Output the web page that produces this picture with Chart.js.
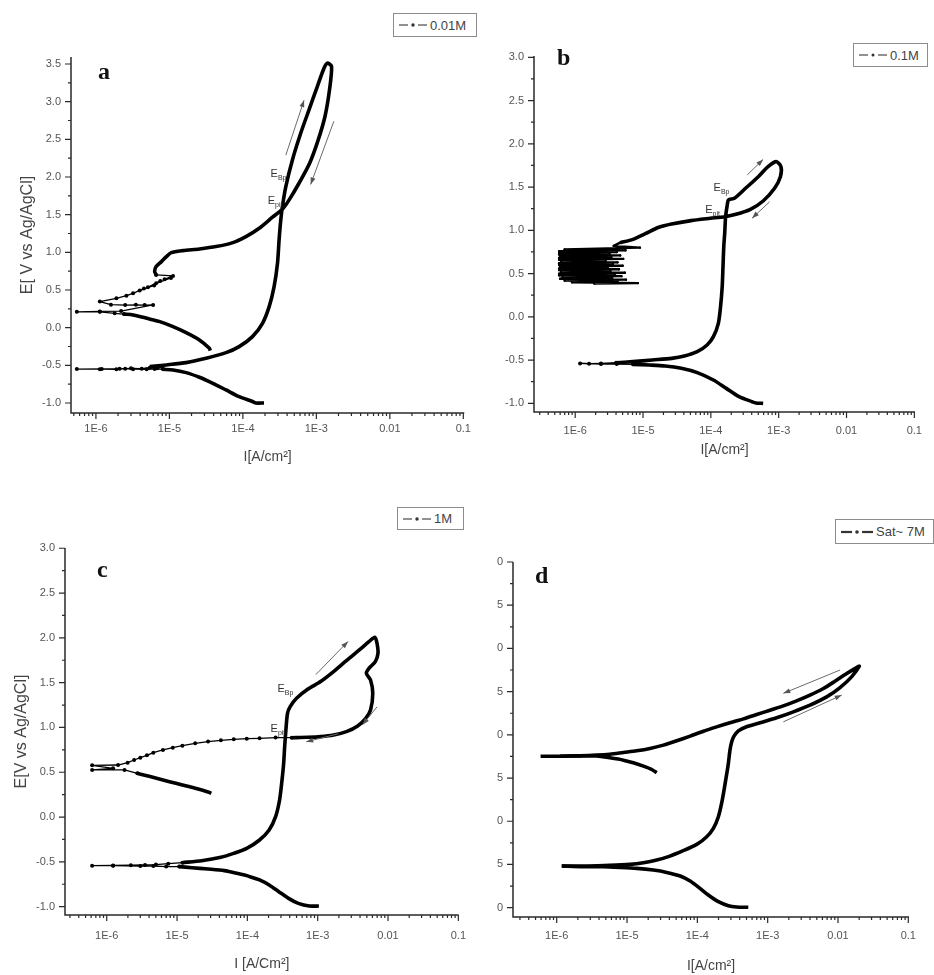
<!DOCTYPE html>
<html>
<head>
<meta charset="utf-8">
<script src="https://cdn.jsdelivr.net/npm/chart.js@4.4.1/dist/chart.umd.min.js"></script>
<style>
  body { margin: 0; background: #fff; width: 934px; height: 975px; position: relative; overflow: hidden; font-family: "Liberation Sans", Arial, sans-serif; }
  canvas { position: absolute; }
  .clip { position: absolute; overflow: hidden; }
  .legend { position: absolute; box-sizing: border-box; border: 1px solid #8c8c8c; background: #fff; display: flex; align-items: center; padding-left: 4px; font-size: 13px; color: #444; white-space: nowrap; }
  .legend svg { margin-right: 2px; }
</style>
</head>
<body>

<canvas id="panelA" width="480" height="475" style="left:0;top:0"></canvas>
<canvas id="panelB" width="454" height="475" style="left:480px;top:0"></canvas>
<canvas id="panelC" width="480" height="495" style="left:0;top:480px"></canvas>
<div class="clip" style="left:497px;top:480px;width:437px;height:495px">
  <canvas id="panelD" width="464" height="495" style="left:-27px;top:0"></canvas>
</div>

<div class="legend" style="left:393px;top:13px;width:84px;height:24px"><svg width="30" height="10"><line x1="1" y1="5" x2="10" y2="5" stroke="#555" stroke-width="1.3"/><circle cx="15" cy="5" r="1.7" fill="#333"/><line x1="20" y1="5" x2="29" y2="5" stroke="#555" stroke-width="1.3"/></svg>0.01M</div>
<div class="legend" style="left:853px;top:43px;width:75px;height:24px"><svg width="30" height="10"><line x1="1" y1="5" x2="10" y2="5" stroke="#555" stroke-width="1.3"/><circle cx="15" cy="5" r="1.5" fill="#333"/><line x1="20" y1="5" x2="29" y2="5" stroke="#555" stroke-width="1.3"/></svg>0.1M</div>
<div class="legend" style="left:397px;top:507px;width:67px;height:23px"><svg width="30" height="10"><line x1="1" y1="5" x2="10" y2="5" stroke="#555" stroke-width="1.3"/><circle cx="15" cy="5" r="1.7" fill="#333"/><line x1="20" y1="5" x2="29" y2="5" stroke="#555" stroke-width="1.3"/></svg>1M</div>
<div class="legend" style="left:835px;top:519px;width:99px;height:25px"><svg width="34" height="10"><line x1="1" y1="5" x2="12" y2="5" stroke="#333" stroke-width="2.2"/><circle cx="17" cy="5" r="1.8" fill="#333"/><line x1="22" y1="5" x2="33" y2="5" stroke="#333" stroke-width="2.2"/></svg>Sat~ 7M</div>

<script>
// axis ticks
const xTickVals = [1e-6, 1e-5, 1e-4, 1e-3, 0.01, 0.1];
const xTickLabels = ['1E-6', '1E-5', '1E-4', '1E-3', '0.01', '0.1'];
const yTicksA = [-1.0, -0.5, 0.0, 0.5, 1.0, 1.5, 2.0, 2.5, 3.0, 3.5];
const yTicks = [-1.0, -0.5, 0.0, 0.5, 1.0, 1.5, 2.0, 2.5, 3.0];

// ---- panel a : 0.01M ----
const aCathI = [1.94e-4, 1.5e-4, 1.35e-4, 8.9e-5, 5.9e-5, 3.9e-5, 2.56e-5, 1.69e-5, 1.12e-5, 8.2e-6];
const aCathE = [-1.00, -1.00, -0.98, -0.916, -0.827, -0.739, -0.659, -0.597, -0.562, -0.553];
const aCorrI = [8.2e-6, 6.3e-6, 4.9e-6, 3.2e-6, 2.5e-6, 1.9e-6, 1.13e-6, 5.5e-7, 1.2e-6, 2.1e-6, 3.0e-6, 4.2e-6, 5.4e-6, 6.8e-6, 8.0e-6];
const aCorrE = [-0.553, -0.548, -0.553, -0.551, -0.545, -0.552, -0.551, -0.550, -0.548, -0.546, -0.540, -0.545, -0.532, -0.538, -0.525];
const aAnodI = [5.4e-6, 9.1e-6, 1.69e-5, 3.16e-5, 5.9e-5, 8.9e-5, 1.35e-4, 1.85e-4, 2.28e-4, 2.66e-4, 2.96e-4, 3.11e-4, 3.28e-4, 3.45e-4, 3.84e-4, 4.72e-4, 6.12e-4, 7.94e-4, 1.03e-3, 1.27e-3, 1.41e-3, 1.61e-3, 1.51e-3, 1.31e-3, 1.06e-3, 8.1e-4, 5.8e-4, 4.26e-4, 3.45e-4, 2.53e-4, 1.67e-4, 1.1e-4, 7.3e-5, 4.3e-5, 2.56e-5, 1.52e-5, 1.06e-5, 9.1e-6, 7.8e-6, 6.6e-6, 6.3e-6, 6.6e-6];
const aAnodE = [-0.517, -0.495, -0.464, -0.407, -0.332, -0.252, -0.119, 0.058, 0.279, 0.545, 0.855, 1.165, 1.430, 1.607, 1.873, 2.227, 2.581, 2.891, 3.201, 3.444, 3.511, 3.467, 3.157, 2.803, 2.493, 2.183, 1.917, 1.696, 1.572, 1.466, 1.320, 1.209, 1.129, 1.076, 1.045, 1.023, 0.996, 0.943, 0.877, 0.811, 0.744, 0.700];
const aNoiseI = [6.6e-6, 1.12e-5, 8.6e-6, 1.05e-5, 6.6e-6, 7.5e-6, 5.1e-6, 6.2e-6, 3.94e-6, 4.5e-6, 3.2e-6, 2.6e-6, 1.9e-6, 1.13e-6, 1.6e-6, 2.5e-6, 3.5e-6, 4.6e-6, 6.0e-6, 2.2e-6, 1.13e-6, 5.5e-7, 1.13e-6, 1.8e-6, 2.4e-6];
const aNoiseE = [0.700, 0.687, 0.642, 0.660, 0.589, 0.620, 0.536, 0.560, 0.492, 0.520, 0.456, 0.425, 0.390, 0.346, 0.305, 0.300, 0.303, 0.300, 0.301, 0.220, 0.215, 0.210, 0.210, 0.190, 0.180];
const aRevI = [2.4e-6, 3.2e-6, 4.9e-6, 7.4e-6, 1.12e-5, 1.69e-5, 2.56e-5, 3.5e-5, 3.6e-5];
const aRevE = [0.180, 0.169, 0.124, 0.080, 0.014, -0.066, -0.163, -0.274, -0.305];
const aArrows = [[3.84e-4, 2.29, 6.8e-4, 3.02], [1.73e-3, 2.74, 8.36e-4, 1.90]];
const aLabels = [['Bp', 3.92e-4, 2.05], ['pit', 3.45e-4, 1.70]];

// ---- panel b : 0.1M ----
const bCathI = [5.9e-4, 4.6e-4, 4.05e-4, 2.61e-4, 1.69e-4, 1.09e-4, 6.3e-5, 3.67e-5, 2.12e-5, 1.23e-5, 7.1e-6];
const bCathE = [-1.00, -0.995, -0.981, -0.923, -0.827, -0.730, -0.645, -0.595, -0.568, -0.557, -0.549];
const bCorrI = [7.1e-6, 4.1e-6, 2.4e-6, 1.18e-6, 1.6e-6, 2.4e-6, 4.0e-6];
const bCorrE = [-0.549, -0.545, -0.545, -0.538, -0.542, -0.538, -0.530];
const bAnodI = [4.0e-6, 7.1e-6, 1.37e-5, 2.64e-5, 4.08e-5, 6.3e-5, 8.8e-5, 1.09e-4, 1.29e-4, 1.39e-4, 1.47e-4, 1.51e-4, 1.55e-4, 1.6e-4, 1.65e-4, 1.73e-4, 1.82e-4, 2.22e-4, 3.25e-4, 5.0e-4, 6.98e-4, 9.2e-4, 1.08e-3, 1.06e-3, 8.7e-4, 5.9e-4, 3.83e-4, 2.34e-4, 1.6e-4, 9.8e-5, 5.1e-5, 2.64e-5, 1.71e-5, 1.1e-5, 7.1e-6, 4.6e-6];
const bAnodE = [-0.530, -0.518, -0.499, -0.480, -0.453, -0.403, -0.326, -0.229, -0.075, 0.118, 0.349, 0.580, 0.811, 0.965, 1.158, 1.274, 1.351, 1.370, 1.486, 1.620, 1.736, 1.794, 1.736, 1.620, 1.486, 1.339, 1.243, 1.185, 1.158, 1.139, 1.112, 1.073, 1.035, 0.965, 0.896, 0.857];
const bNoiseI = [4.6e-6, 3.7e-6, 9.0e-6, 7.0e-7, 5.5e-6, 5.8e-7, 4.1e-6, 5.8e-7, 3.2e-6, 5.8e-7, 4.6e-6, 6.0e-7, 3.4e-6, 5.8e-7, 5.1e-6, 5.8e-7, 2.8e-6, 6.2e-7, 4.2e-6, 5.8e-7, 3.6e-6, 5.8e-7, 5.0e-6, 6.0e-7, 3.0e-6, 5.8e-7, 4.4e-6, 5.8e-7, 3.3e-6, 6.2e-7, 5.4e-6, 5.8e-7, 3.8e-6, 5.8e-7, 4.8e-6, 6.5e-7, 3.5e-6, 6.0e-7, 5.6e-6, 7.0e-7, 4.2e-6, 9.0e-7, 8.4e-6, 1.9e-6];
const bNoiseE = [0.857, 0.820, 0.800, 0.780, 0.770, 0.760, 0.750, 0.740, 0.730, 0.720, 0.710, 0.700, 0.690, 0.680, 0.670, 0.660, 0.650, 0.640, 0.630, 0.620, 0.610, 0.600, 0.590, 0.580, 0.570, 0.560, 0.550, 0.540, 0.530, 0.520, 0.510, 0.500, 0.490, 0.480, 0.470, 0.460, 0.450, 0.440, 0.430, 0.420, 0.410, 0.400, 0.390, 0.385];
const bArrows = [[3.44e-4, 1.64, 5.9e-4, 1.82], [7.36e-4, 1.33, 4.05e-4, 1.14]];
const bLabels = [['Bp', 1.88e-4, 1.50], ['pit', 1.36e-4, 1.25]];

// ---- panel c : 1M ----
const cCathI = [1.04e-3, 7.6e-4, 5.3e-4, 3.85e-4, 2.8e-4, 2.04e-4, 1.49e-4, 1.09e-4, 7.1e-5, 4.7e-5, 2.76e-5, 1.63e-5, 1.07e-5];
const cCathE = [-0.993, -0.993, -0.963, -0.907, -0.833, -0.758, -0.702, -0.665, -0.628, -0.598, -0.580, -0.565, -0.553];
const cCorrI = [1.07e-5, 7.0e-6, 4.6e-6, 3.0e-6, 1.23e-6, 6.2e-7, 1.23e-6, 2.2e-6, 3.5e-6, 5.0e-6, 7.5e-6, 1.19e-5];
const cCorrE = [-0.553, -0.553, -0.546, -0.546, -0.542, -0.542, -0.540, -0.538, -0.534, -0.530, -0.520, -0.509];
const cAnodI = [1.19e-5, 2.24e-5, 4.2e-5, 6.4e-5, 9.8e-5, 1.49e-4, 2.04e-4, 2.52e-4, 2.87e-4, 3.11e-4, 3.28e-4, 3.39e-4, 3.53e-4, 3.72e-4, 4.06e-4, 5.0e-4, 7.2e-4, 1.1e-3, 1.68e-3, 2.56e-3, 3.9e-3, 5.35e-3, 6.5e-3, 6.97e-3, 7.2e-3, 6.6e-3, 5.35e-3, 4.92e-3, 5.64e-3, 6.07e-3, 5.64e-3, 4.82e-3, 3.7e-3, 2.56e-3, 1.68e-3, 1.1e-3, 7.2e-4, 4.27e-4];
const cAnodE = [-0.509, -0.487, -0.449, -0.405, -0.349, -0.256, -0.144, 0.005, 0.191, 0.414, 0.600, 0.786, 0.972, 1.158, 1.233, 1.326, 1.426, 1.512, 1.623, 1.746, 1.865, 1.958, 2.007, 1.940, 1.828, 1.735, 1.660, 1.605, 1.530, 1.381, 1.195, 1.102, 1.017, 0.953, 0.916, 0.898, 0.890, 0.886];
const cDotI = [4.27e-4, 2.52e-4, 1.49e-4, 9.8e-5, 6.4e-5, 4.2e-5, 2.76e-5, 1.81e-5, 1.19e-5, 8.7e-6, 6.3e-6, 4.6e-6, 3.73e-6, 3.0e-6, 2.45e-6, 1.98e-6, 1.45e-6, 6.2e-7, 1.23e-6, 6.2e-7, 1.79e-6, 2.72e-6];
const cDotE = [0.886, 0.887, 0.879, 0.875, 0.868, 0.857, 0.842, 0.823, 0.797, 0.775, 0.749, 0.719, 0.689, 0.663, 0.637, 0.607, 0.581, 0.578, 0.544, 0.526, 0.526, 0.488];
const cRevI = [2.72e-6, 3.36e-6, 5.1e-6, 7.8e-6, 1.19e-5, 1.81e-5, 2.76e-5, 3.07e-5];
const cRevE = [0.488, 0.470, 0.433, 0.395, 0.358, 0.321, 0.280, 0.265];
const cArrows = [[9.4e-4, 1.59, 2.7e-3, 1.96], [6.97e-3, 1.23, 4.34e-3, 1.03], [1.97e-3, 0.93, 6.86e-4, 0.84]];
const cLabels = [['Bp', 4.5e-4, 1.44], ['pit', 3.46e-4, 0.99]];

// ---- panel d : Sat~ 7M ----
const dCathI = [5.3e-4, 3.62e-4, 2.76e-4, 1.99e-4, 1.43e-4, 1.09e-4, 7.9e-5, 5.7e-5, 3.67e-5, 2.36e-5, 1.37e-5, 7.9e-6, 4.6e-6, 2.4e-6, 1.18e-6];
const dCathE = [-0.996, -0.992, -0.977, -0.931, -0.854, -0.777, -0.692, -0.634, -0.592, -0.565, -0.545, -0.534, -0.526, -0.526, -0.518];
const dAnodI = [1.18e-6, 2.67e-6, 5.7e-6, 1.1e-5, 1.71e-5, 2.64e-5, 4.08e-5, 6.3e-5, 9.8e-5, 1.36e-4, 1.69e-4, 1.99e-4, 2.26e-4, 2.53e-4, 2.76e-4, 2.91e-4, 3.08e-4, 3.32e-4, 3.83e-4, 5.0e-4, 7.8e-4, 1.34e-3, 2.32e-3, 4.0e-3, 6.9e-3, 0.0107, 0.0156, 0.0201, 0.0184, 0.0133, 9.06e-3, 6.2e-3, 4.0e-3, 2.58e-3, 1.67e-3, 1.08e-3, 6.98e-4, 4.51e-4, 2.91e-4, 1.88e-4, 1.22e-4, 7.9e-5, 5.1e-5, 3.29e-5, 2.12e-5, 1.37e-5, 8.9e-6, 5.7e-6, 3.7e-6, 2.15e-6, 1.11e-6, 5.9e-7];
const dAnodE = [-0.518, -0.518, -0.511, -0.499, -0.480, -0.449, -0.403, -0.341, -0.268, -0.179, -0.083, 0.052, 0.245, 0.476, 0.669, 0.823, 0.919, 0.985, 1.046, 1.093, 1.139, 1.197, 1.266, 1.343, 1.439, 1.547, 1.671, 1.794, 1.778, 1.709, 1.620, 1.536, 1.459, 1.393, 1.335, 1.285, 1.235, 1.185, 1.139, 1.092, 1.042, 0.985, 0.931, 0.881, 0.842, 0.815, 0.796, 0.776, 0.765, 0.757, 0.753, 0.753];
const dRevI = [1.11e-6, 2.15e-6, 3.7e-6, 5.7e-6, 8.9e-6, 1.23e-5, 1.71e-5, 2.25e-5, 2.64e-5];
const dRevE = [0.753, 0.757, 0.755, 0.734, 0.707, 0.676, 0.638, 0.599, 0.561];
const dArrows = [[0.0107, 1.75, 1.67e-3, 1.48], [1.67e-3, 1.15, 0.0113, 1.46]];

const FONT = '"Liberation Sans", Arial, sans-serif';

// style: 'thick' dense data, 'dots' sparse points, 'noise' jagged block
function curve(I, E, style) {
    const s = style || 'thick';
    return {
        data: I.map((v, i) => ({x: v, y: E[i]})),
        showLine: true,
        borderColor: '#000',
        backgroundColor: '#000',
        borderWidth: s === 'thick' ? 3.6 : (s === 'noise' ? 2.4 : 1.3),
        pointRadius: s === 'thick' ? 0 : (s === 'noise' ? 1.2 : 2),
        pointBorderWidth: 0,
        pointHoverRadius: 0,
        borderJoinStyle: 'round',
        tension: s === 'thick' ? 0.25 : 0
    };
}

// axes, tick marks, arrows, E labels and panel letter
function makeDecor(cfg) {
    return {
        id: 'decor',
        afterDatasetsDraw(chart) {
            const ctx = chart.ctx;
            const ca = chart.chartArea;
            const x = chart.scales.x, y = chart.scales.y;
            ctx.save();
            ctx.strokeStyle = '#2a2a2a';
            ctx.lineWidth = 1.5;
            ctx.beginPath();
            ctx.moveTo(ca.left, ca.top);
            ctx.lineTo(ca.left, ca.bottom);
            ctx.lineTo(ca.right, ca.bottom);
            ctx.stroke();

            ctx.lineWidth = 1.2;
            ctx.beginPath();
            cfg.yTicks.forEach(v => {
                const py = y.getPixelForValue(v);
                ctx.moveTo(ca.left, py); ctx.lineTo(ca.left - 6, py);
                const m = v + 0.25;
                if (m <= y.max) {
                    const pm = y.getPixelForValue(m);
                    ctx.moveTo(ca.left, pm); ctx.lineTo(ca.left - 3, pm);
                }
            });
            xTickVals.forEach(v => {
                const px = x.getPixelForValue(v);
                ctx.moveTo(px, ca.bottom); ctx.lineTo(px, ca.bottom + 6);
            });
            for (let e = -7; e <= -2; e++) {
                for (let k = 2; k <= 9; k++) {
                    const v = k * Math.pow(10, e);
                    if (v <= x.min || v >= x.max) continue;
                    const px = x.getPixelForValue(v);
                    ctx.moveTo(px, ca.bottom); ctx.lineTo(px, ca.bottom + 3);
                }
            }
            ctx.stroke();

            // arrows
            ctx.strokeStyle = '#6a6a6a';
            ctx.fillStyle = '#555';
            ctx.lineWidth = 1;
            (cfg.arrows || []).forEach(a => {
                const x0 = x.getPixelForValue(a[0]), y0 = y.getPixelForValue(a[1]);
                const x1 = x.getPixelForValue(a[2]), y1 = y.getPixelForValue(a[3]);
                const ang = Math.atan2(y1 - y0, x1 - x0);
                ctx.beginPath(); ctx.moveTo(x0, y0); ctx.lineTo(x1, y1); ctx.stroke();
                ctx.beginPath();
                ctx.moveTo(x1, y1);
                ctx.lineTo(x1 - 7 * Math.cos(ang) + 2.5 * Math.sin(ang), y1 - 7 * Math.sin(ang) - 2.5 * Math.cos(ang));
                ctx.lineTo(x1 - 7 * Math.cos(ang) - 2.5 * Math.sin(ang), y1 - 7 * Math.sin(ang) + 2.5 * Math.cos(ang));
                ctx.closePath(); ctx.fill();
            });

            // E_Bp / E_pit
            ctx.fillStyle = '#333';
            ctx.textBaseline = 'alphabetic';
            (cfg.labels || []).forEach(l => {
                const px = x.getPixelForValue(l[1]), py = y.getPixelForValue(l[2]);
                ctx.font = '11px ' + FONT;
                const wE = ctx.measureText('E').width;
                ctx.font = '7px ' + FONT;
                const wS = ctx.measureText(l[0]).width;
                const x0 = px - wE - wS;
                ctx.font = '11px ' + FONT;
                ctx.fillText('E', x0, py + 4);
                ctx.font = '7px ' + FONT;
                ctx.fillText(l[0], x0 + wE, py + 7);
            });

            // panel letter
            ctx.fillStyle = '#111';
            ctx.font = 'bold 24px "Liberation Serif", "Times New Roman", serif';
            ctx.fillText(cfg.letter, ca.left + cfg.letterDx, ca.top + cfg.letterDy);
            ctx.restore();
        }
    };
}

function makeChart(id, cfg) {
    new Chart(document.getElementById(id), {
        type: 'scatter',
        data: {datasets: cfg.sets},
        options: {
            responsive: false,
            animation: false,
            events: [],
            layout: {padding: {top: cfg.padTop, right: cfg.padRight, left: 0, bottom: 0}},
            plugins: {legend: {display: false}, tooltip: {enabled: false}},
            scales: {
                x: {
                    type: 'logarithmic',
                    min: cfg.xMin, max: cfg.xMax,
                    grid: {display: false, drawTicks: false},
                    border: {display: false},
                    afterBuildTicks: s => { s.ticks = xTickVals.map(v => ({value: v})); },
                    afterFit: s => { s.height = cfg.xH; },
                    ticks: {
                        autoSkip: false, maxRotation: 0, padding: cfg.xPad,
                        color: '#555', font: {family: FONT, size: 11},
                        callback: (v, i) => xTickLabels[i]
                    },
                    title: {
                        display: true, text: cfg.xTitle, color: '#444',
                        font: {family: FONT, size: 14},
                        padding: {top: 0, bottom: cfg.xTitlePad}
                    }
                },
                y: {
                    min: cfg.yMin, max: cfg.yMax,
                    grid: {display: false, drawTicks: false},
                    border: {display: false},
                    afterBuildTicks: s => { s.ticks = cfg.yTicks.map(v => ({value: v})); },
                    afterFit: s => { s.width = cfg.yW; },
                    ticks: {
                        padding: 10, color: '#555', font: {family: FONT, size: 11},
                        callback: v => v.toFixed(1)
                    },
                    title: {
                        display: !!cfg.yTitle, text: cfg.yTitle || '', color: '#444',
                        font: {family: FONT, size: 16},
                        padding: {top: cfg.yTitlePad || 0, bottom: 0}
                    }
                }
            }
        },
        plugins: [makeDecor(cfg)]
    });
}

makeChart('panelA', {
    sets: [curve(aCathI, aCathE), curve(aCorrI, aCorrE, 'dots'), curve(aAnodI, aAnodE),
           curve(aNoiseI, aNoiseE, 'dots'), curve(aRevI, aRevE)],
    xMin: 4.58e-7, xMax: 0.103, yMin: -1.133, yMax: 3.593, yTicks: yTicksA,
    padTop: 57, padRight: 14, yW: 71, xH: 62, xPad: 9,
    xTitle: 'I[A/cm²]', xTitlePad: 9, yTitle: 'E[ V vs Ag/AgCl]', yTitlePad: 18,
    arrows: aArrows, labels: aLabels, letter: 'a', letterDx: 27, letterDy: 22
});

makeChart('panelB', {
    sets: [curve(bCathI, bCathE), curve(bCorrI, bCorrE, 'dots'), curve(bAnodI, bAnodE),
           curve(bNoiseI, bNoiseE, 'noise')],
    xMin: 2.47e-7, xMax: 0.1023, yMin: -1.10, yMax: 3.015, yTicks: yTicks,
    padTop: 56, padRight: 5, yW: 54, xH: 63, xPad: 12,
    xTitle: 'I[A/cm²]', xTitlePad: 16,
    arrows: bArrows, labels: bLabels, letter: 'b', letterDx: 23, letterDy: 9
});

makeChart('panelC', {
    sets: [curve(cCathI, cCathE), curve(cCorrI, cCorrE, 'dots'), curve(cAnodI, cAnodE),
           curve(cDotI, cDotE, 'dots'), curve(cRevI, cRevE)],
    xMin: 2.55e-7, xMax: 0.101, yMin: -1.093, yMax: 3.003, yTicks: yTicks,
    padTop: 68, padRight: 7, yW: 65, xH: 60, xPad: 14,
    xTitle: 'I [A/Cm²]', xTitlePad: 2, yTitle: 'E[V vs Ag/AgCl]', yTitlePad: 12,
    arrows: cArrows, labels: cLabels, letter: 'c', letterDx: 32, letterDy: 29
});

makeChart('panelD', {
    sets: [curve(dCathI, dCathE), curve(dAnodI, dAnodE), curve(dRevI, dRevE)],
    xMin: 2.39e-7, xMax: 0.1023, yMin: -1.108, yMax: 3.0, yTicks: yTicks,
    padTop: 82, padRight: 25, yW: 43, xH: 58, xPad: 12,
    xTitle: 'I[A/cm²]', xTitlePad: 0,
    arrows: dArrows, letter: 'd', letterDx: 22, letterDy: 21
});
</script>
</body>
</html>
